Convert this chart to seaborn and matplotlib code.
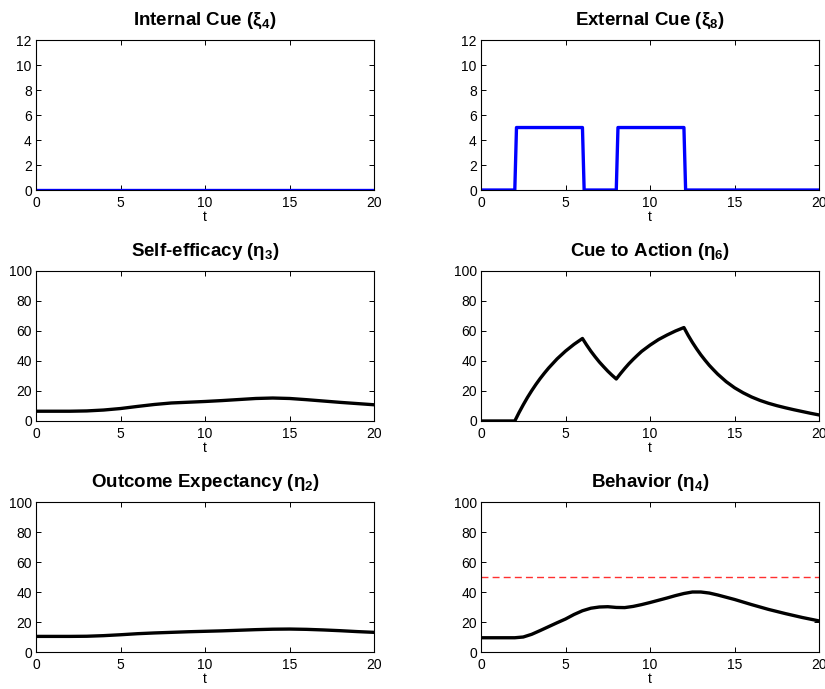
import numpy as np
import pandas as pd
import matplotlib
matplotlib.use('Agg')
import matplotlib.pyplot as plt
import seaborn as sns

# values
t_cue = [0, 2, 2.1, 6, 6.1, 8, 8.1, 12, 12.1, 20]
internal_cue = [0, 0, 0, 0, 0, 0, 0, 0, 0, 0]
external_cue = [0, 0, 5, 5, 0, 0, 5, 5, 0, 0]

t_slow = [0, 1, 2, 3, 4, 5, 6, 7, 8, 9, 10, 11, 12, 13, 14, 15, 16, 17, 18, 19, 20]
self_efficacy = [6.5, 6.5, 6.5, 6.7, 7.3, 8.3, 9.7, 11.0, 12.0, 12.5, 13.0,
                 13.6, 14.3, 15.0, 15.3, 15.0, 14.2, 13.3, 12.4, 11.6, 10.8]
outcome_exp = [10.4, 10.4, 10.4, 10.5, 10.9, 11.5, 12.2, 12.7, 13.1, 13.5, 13.8,
               14.1, 14.5, 14.9, 15.2, 15.3, 15.1, 14.7, 14.2, 13.6, 13.1]

t_cta = [0, 2, 2.25, 2.5, 2.75, 3, 3.25, 3.5, 3.75, 4, 4.5, 5, 5.5, 6,
         6.25, 6.5, 6.75, 7, 7.25, 7.5, 7.75, 8,
         8.25, 8.5, 8.75, 9, 9.25, 9.5, 10, 10.5, 11, 11.5, 12,
         12.25, 12.5, 12.75, 13, 13.25, 13.5, 13.75, 14, 14.5, 15, 15.5, 16,
         16.5, 17, 17.5, 18, 18.5, 19, 19.5, 20]
cue_to_action = [0, 0, 5.6, 10.8, 15.7, 20.2, 24.4, 28.3, 31.9, 35.3, 41.4,
                 46.6, 51.1, 55,
                 50.6, 46.5, 42.8, 39.3, 36.2, 33.2, 30.5, 28,
                 31.6, 35.0, 38.2, 41.1, 43.8, 46.4, 50.6, 54.3, 57.3, 60.0, 62.3,
                 57.1, 52.4, 48.1, 44.1, 40.5, 37.1, 34.1, 31.2, 26.2, 22.1,
                 18.8, 16.0, 13.7, 11.8, 10.2, 8.8, 7.5, 6.3, 5.1, 4.0]

t_beh = [0, 1, 2, 2.5, 3, 3.5, 4, 4.5, 5, 5.5, 6, 6.5, 7, 7.5, 8, 8.5, 9, 9.5,
         10, 10.5, 11, 11.5, 12, 12.5, 13, 13.5, 14, 15, 16, 17, 18, 19, 20]
behavior = [9.5, 9.5, 9.5, 10, 11.8, 14.3, 16.9, 19.5, 22, 25, 27.5, 29.2, 30,
            30.2, 29.7, 29.6, 30.4, 31.6, 33, 34.5, 36, 37.6, 39, 40, 40, 39.3,
            38, 35, 31.6, 28.4, 25.6, 23, 20.7]
threshold = 50

sns.set_style('ticks')
plt.rcParams['font.family'] = ['Liberation Sans', 'DejaVu Sans']
plt.rcParams['mathtext.fontset'] = 'custom'
plt.rcParams['mathtext.rm'] = 'Liberation Sans'
plt.rcParams['mathtext.bf'] = 'Liberation Sans:bold'
plt.rcParams['text.color'] = 'black'
plt.rcParams['axes.labelcolor'] = 'black'

fig = plt.figure(figsize=(8.25, 6.89), dpi=100)

W = 0.41
H = 0.2177
lefts = [0.0436, 0.583]
bottoms = [0.7242, 0.389, 0.0537]


def setup(ax, title, ymax, ystep):
    ax.set_xlim(0, 20)
    ax.set_ylim(0, ymax)
    ax.set_xticks([0, 5, 10, 15, 20])
    ax.set_yticks(np.arange(0, ymax + 1, ystep))
    ax.tick_params(direction='in', top=True, right=True, length=3.5,
                   width=0.7, labelsize=10, colors='black', pad=3)
    ax.tick_params(axis='x', pad=4.5)
    for s in ax.spines.values():
        s.set_visible(True)
        s.set_linewidth(0.8)
        s.set_color('black')
    ax.set_xlabel('t', fontsize=10, labelpad=0)
    ax.set_ylabel('')
    ax.set_title(title, fontsize=13.5, fontweight='bold', pad=11, color='black')


def make_ax(col, row):
    return fig.add_axes([lefts[col], bottoms[row], W, H])


ax = make_ax(0, 0)
sns.lineplot(x=t_cue, y=internal_cue, ax=ax, color='#0000ff', linewidth=2.4)
setup(ax, r'Internal Cue (ξ$_\mathbf{4}$)', 12, 2)

ax = make_ax(1, 0)
sns.lineplot(x=t_cue, y=external_cue, ax=ax, color='#0000ff', linewidth=2.4)
setup(ax, r'External Cue (ξ$_\mathbf{8}$)', 12, 2)

ax = make_ax(0, 1)
sns.lineplot(x=t_slow, y=self_efficacy, ax=ax, color='black', linewidth=2.4)
setup(ax, r'Self-efficacy (η$_\mathbf{3}$)', 100, 20)

ax = make_ax(1, 1)
sns.lineplot(x=t_cta, y=cue_to_action, ax=ax, color='black', linewidth=2.4)
setup(ax, r'Cue to Action (η$_\mathbf{6}$)', 100, 20)

ax = make_ax(0, 2)
sns.lineplot(x=t_slow, y=outcome_exp, ax=ax, color='black', linewidth=2.4)
setup(ax, r'Outcome Expectancy (η$_\mathbf{2}$)', 100, 20)

ax = make_ax(1, 2)
sns.lineplot(x=t_beh, y=behavior, ax=ax, color='black', linewidth=2.4)
ax.axhline(threshold, color='#ff3030', linestyle='--', linewidth=1.0, dashes=(5, 3))
setup(ax, r'Behavior (η$_\mathbf{4}$)', 100, 20)

fig.savefig('out.png', dpi=100)
